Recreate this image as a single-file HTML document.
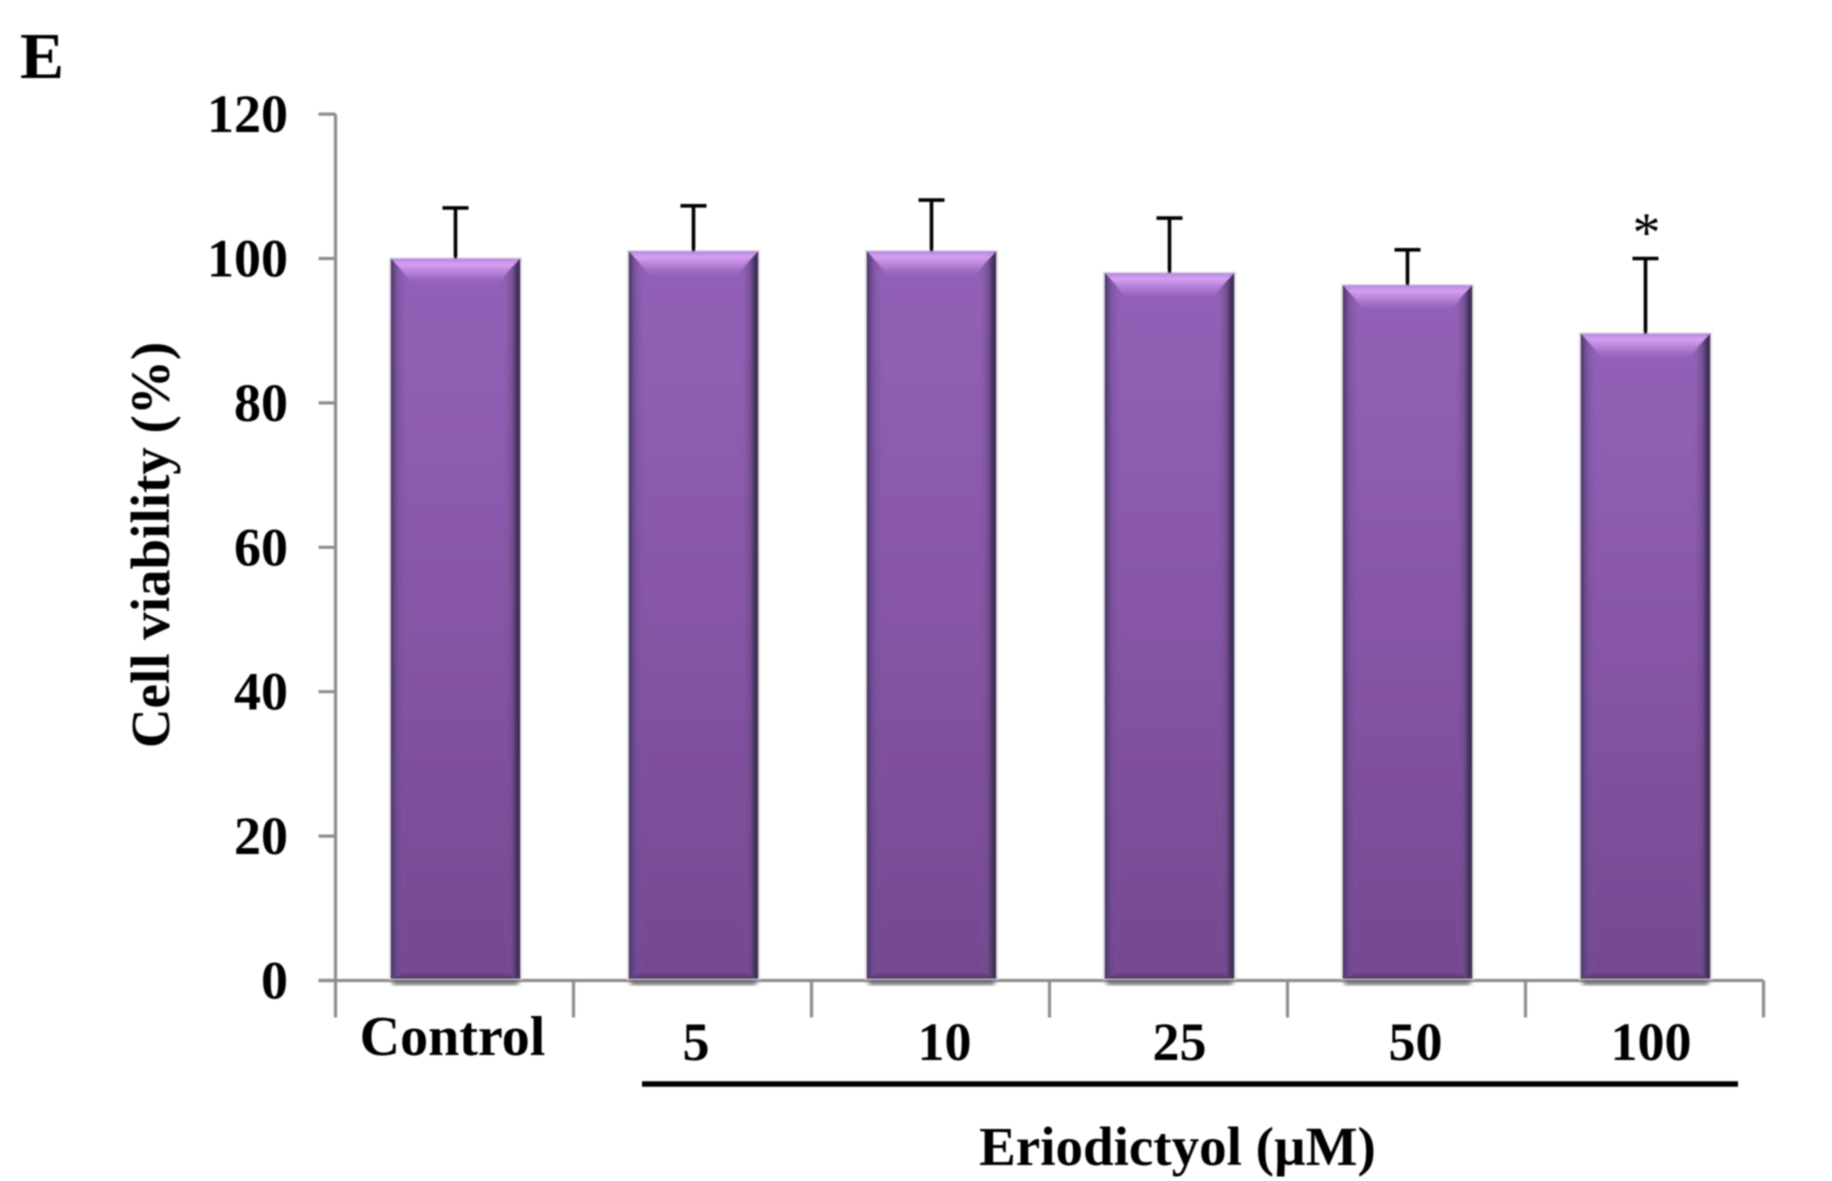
<!DOCTYPE html>
<html lang="en">
<head>
<meta charset="utf-8">
<title>Cell viability chart</title>
<style>
html,body{margin:0;padding:0;background:#fff;width:1832px;height:1181px;overflow:hidden}
svg{display:block}
text{font-family:"Liberation Serif",serif;font-weight:bold;fill:#000}
</style>
</head>
<body>
<svg id="chart" xmlns="http://www.w3.org/2000/svg" width="1832" height="1181" viewBox="0 0 1832 1181">
<defs>
<linearGradient id="faceGrad" x1="0" y1="0" x2="0" y2="1">
<stop offset="0" stop-color="#9262b8"/><stop offset="0.5" stop-color="#8655a6"/><stop offset="1" stop-color="#74488f"/>
</linearGradient>
<linearGradient id="topGrad" x1="0" y1="0" x2="0" y2="1">
<stop offset="0" stop-color="#b588dc" stop-opacity="1"/><stop offset="0.22" stop-color="#d69ef4" stop-opacity="1"/><stop offset="0.6" stop-color="#b57fd6" stop-opacity="0.8"/><stop offset="1" stop-color="#9660b8" stop-opacity="0"/>
</linearGradient>
<linearGradient id="leftGrad" x1="0" y1="0" x2="1" y2="0">
<stop offset="0" stop-color="#453263" stop-opacity="1"/><stop offset="0.45" stop-color="#6b4a90" stop-opacity="0.45"/><stop offset="1" stop-color="#8656a8" stop-opacity="0"/>
</linearGradient>
<linearGradient id="rightGrad" x1="0" y1="0" x2="1" y2="0">
<stop offset="0" stop-color="#84549f" stop-opacity="0"/><stop offset="0.5" stop-color="#6e4a8a" stop-opacity="0.7"/><stop offset="0.78" stop-color="#43305a" stop-opacity="1"/><stop offset="1" stop-color="#43305a" stop-opacity="1"/>
</linearGradient>
<linearGradient id="bottomGrad" x1="0" y1="0" x2="0" y2="1">
<stop offset="0" stop-color="#6a3a86" stop-opacity="0"/><stop offset="1" stop-color="#4f2f68" stop-opacity="1"/>
</linearGradient>
<filter id="soft" x="-5%" y="-5%" width="110%" height="110%"><feGaussianBlur stdDeviation="0.8"/></filter>
<filter id="shadow" x="-10%" y="-10%" width="120%" height="120%"><feGaussianBlur stdDeviation="2.5"/></filter>
</defs>
<g id="plot" filter="url(#soft)"></g>
</svg>
<script>
const categories = ['Control', '5', '10', '25', '50', '100'];
const viability = [100, 101, 101, 98, 96.3, 89.6];
const errorTops = [107, 107.3, 108.1, 105.6, 101.2, 100];
const yTicks = [0, 20, 40, 60, 80, 100, 120];

const plot = document.getElementById('plot');
const NS = 'http://www.w3.org/2000/svg';
const axisLeft = 335.5;
const axisRight = 1763.5;
const baseY = 980.5;
const unitY = 7.22;
const barWidth = 130;
const barShift = 1;
const bevel = 17;
const axisColor = '#8e8e8e';

function yScale(v) { return baseY - v * unitY; }
function band() { return (axisRight - axisLeft) / categories.length; }
function xEdge(i) { return axisLeft + i * band(); }
function xCenter(i) { return xEdge(i) + band() / 2; }

function make(tag, attrs, text) {
  const el = document.createElementNS(NS, tag);
  for (const k in attrs) el.setAttribute(k, attrs[k]);
  if (text !== undefined) el.textContent = text;
  plot.appendChild(el);
  return el;
}

// y axis
const yAxis = make('line', {x1: axisLeft, x2: axisLeft, y1: yScale(120), y2: baseY + 37, stroke: axisColor, 'stroke-width': 3.2});



yTicks.forEach(function (t) {
  const tick = make('line', {x1: axisLeft - 17, x2: axisLeft, y1: yScale(t), y2: yScale(t), stroke: axisColor, 'stroke-width': 3.2});
  
  
  const label = make('text', {x: 288, y: yScale(t) + 18, 'text-anchor': 'end', 'font-size': 54}, String(t));
  
  
});

// x axis
const xAxis = make('line', {x1: axisLeft - 17, x2: axisRight, y1: baseY, y2: baseY, stroke: axisColor, 'stroke-width': 3.2});



for (let i = 1; i <= categories.length; i++) {
  const tick = make('line', {x1: xEdge(i), x2: xEdge(i), y1: baseY, y2: baseY + 37, stroke: axisColor, 'stroke-width': 3.2});
  
  
}

// bars
categories.forEach(function (cat, i) {
  const c = xCenter(i) + barShift;
  const l = c - barWidth / 2;
  const r = c + barWidth / 2;
  const t = yScale(viability[i]);
  const b = baseY - 1.5;
  const key = String(cat).toLowerCase();

  const shadow = make('rect', {x: l + 2, y: b - 4, width: barWidth - 4, height: 10, fill: '#6a6a6a', filter: 'url(#shadow)'});
  
  

  const halo = make('rect', {x: l - 1, y: t - 0.5, width: barWidth + 2, height: b - t + 0.5, fill: 'none', stroke: '#e4e2e6', 'stroke-width': 1.5});
  
  

  const face = make('rect', {x: l, y: t, width: barWidth, height: b - t, fill: 'url(#faceGrad)'});
  
  

  const top = make('polygon', {points: [l + 1, t, r - 1, t, r - bevel - 6, t + 27, l + bevel + 6, t + 27].join(' '), fill: 'url(#topGrad)'});
  
  

  const left = make('polygon', {points: [l, t, l + bevel, t + bevel, l + bevel, b - 8, l, b].join(' '), fill: 'url(#leftGrad)'});
  
  

  const right = make('polygon', {points: [r, t, r - bevel, t + bevel, r - bevel, b - 8, r, b].join(' '), fill: 'url(#rightGrad)'});
  
  

  const bottom = make('polygon', {points: [l, b, r, b, r - bevel, b - 8, l + bevel, b - 8].join(' '), fill: 'url(#bottomGrad)'});
  
  

  const stem = make('line', {x1: c, x2: c, y1: yScale(errorTops[i]), y2: t, stroke: '#000', 'stroke-width': 3.6});
  
  

  const cap = make('line', {x1: c - 13, x2: c + 13, y1: yScale(errorTops[i]), y2: yScale(errorTops[i]), stroke: '#000', 'stroke-width': 3.6});
  
  
});

// category labels (hand placed in the source figure, so they sit slightly off band centre)
const labelNudgeX = [-2, 3.5, 14, 11, 9, 6.5];
const labelBaseY = [1055, 1060, 1060, 1060, 1060, 1060];
categories.forEach(function (cat, i) {
  const label = make('text', {x: xCenter(i) + labelNudgeX[i], y: labelBaseY[i], 'text-anchor': 'middle', 'font-size': i === 0 ? 56 : 54}, cat);
  
  
});

// significance marker on the last bar
const star = make('text', {x: xCenter(categories.length - 1) + barShift + 1, y: 251, 'text-anchor': 'middle', 'font-size': 56, style: 'font-weight:normal'}, '*');



// group bracket and titles
const bracket = make('line', {x1: 642, x2: 1738, y1: 1084, y2: 1084, stroke: '#000', 'stroke-width': 5.5});



const xTitle = make('text', {x: 1177.5, y: 1165, 'text-anchor': 'middle', 'font-size': 55}, 'Eriodictyol (µM)');



const yTitle = make('text', {x: 0, y: 0, 'text-anchor': 'middle', 'font-size': 55, transform: 'translate(169 545) rotate(-90)'}, 'Cell viability (%)');



const panel = make('text', {x: 20, y: 78, 'font-size': 66}, 'E');


</script>
</body>
</html>
